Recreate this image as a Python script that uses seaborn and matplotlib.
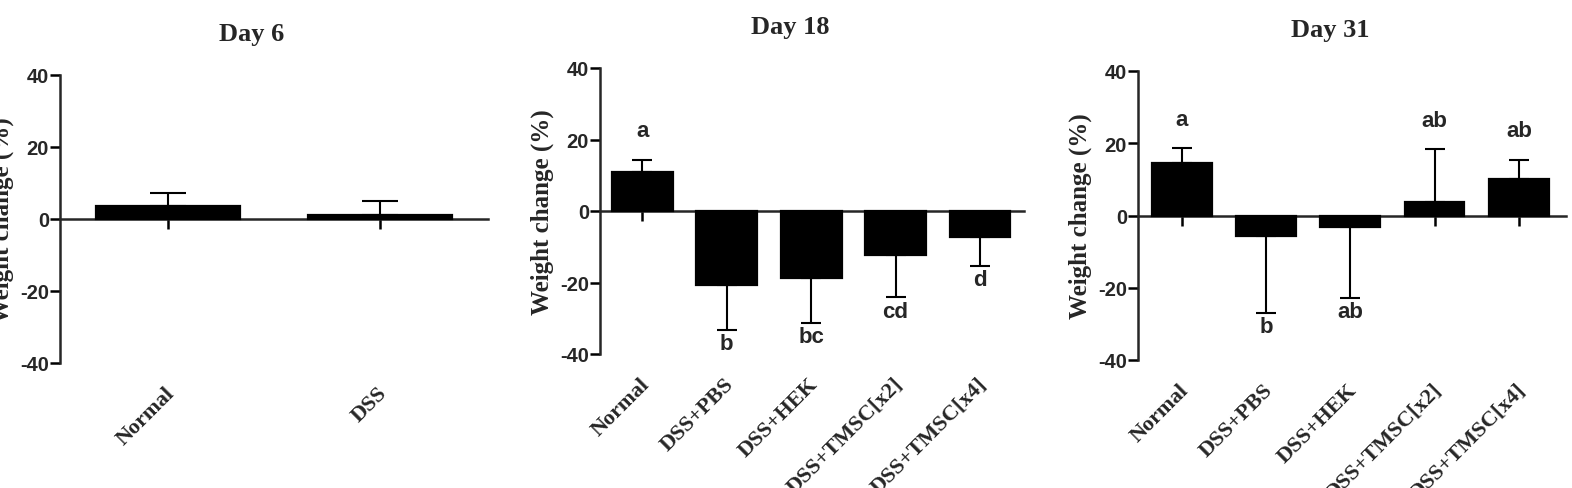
import numpy as np
import pandas as pd
import matplotlib.pyplot as plt
import matplotlib.transforms as mtransforms
import seaborn as sns

# -------------------------------------------------------
# Data
# -------------------------------------------------------

groups_day6 = ["Normal", "DSS"]
mean_day6 = [3.6, 1.1]
err_day6 = [3.6, 3.9]
letters_day6 = ["", ""]

groups_treat = ["Normal", "DSS+PBS", "DSS+HEK", "DSS+TMSC[x2]", "DSS+TMSC[x4]"]

mean_day18 = [10.9, -20.7, -18.7, -12.3, -7.3]
err_day18 = [3.4, 12.6, 12.6, 11.8, 8.1]
letters_day18 = ["a", "b", "bc", "cd", "d"]

mean_day31 = [14.4, -5.8, -3.2, 3.6, 10.2]
err_day31 = [4.2, 21.1, 19.6, 14.7, 5.3]
letters_day31 = ["a", "b", "ab", "ab", "ab"]

y_ticks = [-40, -20, 0, 20, 40]

# -------------------------------------------------------
# Style
# -------------------------------------------------------

sns.set_style("ticks")
plt.rcParams["font.family"] = ["Liberation Sans", "DejaVu Sans"]

SERIF = "Liberation Serif"
SANS = "Liberation Sans"
LW = 1.8

fig = plt.figure(figsize=(15.72, 4.89), dpi=100)

W, H = 1572, 489


def px_axes(left, top, right, bottom):
    return fig.add_axes([left / W, 1 - bottom / H, (right - left) / W, (bottom - top) / H])


def draw_panel(ax, title, groups, means, errs, letters, xlim, capsize, bar_width):
    n = len(groups)
    df = pd.DataFrame({"group": groups, "mean": means})

    sns.barplot(
        data=df,
        x="group",
        y="mean",
        color="black",
        edgecolor="black",
        linewidth=1.6,
        width=bar_width,
        saturation=1,
        errorbar=None,
        ax=ax,
        zorder=3
    )

    means = np.array(means)
    errs = np.array(errs)
    pos = means >= 0
    lower = np.where(pos, 0, errs)
    upper = np.where(pos, errs, 0)

    ax.errorbar(
        np.arange(n), means, yerr=[lower, upper],
        fmt="none", ecolor="black", elinewidth=1.5,
        capsize=capsize, capthick=1.5, zorder=2
    )

    # significance letters
    for i in range(n):
        if not letters[i]:
            continue
        if means[i] >= 0:
            y = means[i] + errs[i]
            off = 21
        else:
            y = means[i] - errs[i]
            off = -10
        ax.annotate(
            letters[i], xy=(i, y), xytext=(0, off), textcoords="offset points",
            ha="center", va="center", fontsize=16, fontweight="bold",
            fontfamily=SANS, zorder=5
        )

    ax.set_xlim(*xlim)
    ax.set_ylim(-40, 40)
    ax.set_yticks(y_ticks)
    ax.set_yticklabels([str(t) for t in y_ticks], fontsize=14.5,
                       fontweight="bold", fontfamily=SANS)
    ax.tick_params(axis="y", length=7, width=LW, pad=1, color="black")

    ax.set_xlabel("")
    ax.set_ylabel("")

    # x axis line sits at zero with short ticks below
    ax.spines["bottom"].set_position(("data", 0))
    ax.spines["bottom"].set_linewidth(LW)
    ax.spines["left"].set_linewidth(LW)
    ax.spines["top"].set_visible(False)
    ax.spines["right"].set_visible(False)
    ax.set_xticks(range(n))
    ax.tick_params(axis="x", length=7, width=LW, labelbottom=False, color="black")

    # category labels below the plot
    sec = ax.secondary_xaxis("bottom")
    sec.set_xticks(range(n))
    sec.set_xticklabels(groups, rotation=45, ha="right", fontsize=16,
                        fontweight="bold", fontfamily=SERIF)
    sec.tick_params(length=0, pad=14)
    sec.spines["bottom"].set_visible(False)
    shift = mtransforms.ScaledTranslation(11 / 100, 0, fig.dpi_scale_trans)
    for lab in sec.get_xticklabels():
        lab.set_transform(lab.get_transform() + shift)

    bbox = ax.get_position()
    width_px = bbox.width * W
    ax.set_title(title, fontsize=19, fontweight="bold", fontfamily=SERIF,
                 pad=25, x=0.5 - 22 / width_px)

    ax.text(-58 / width_px, 0.5, "Weight change (%)", transform=ax.transAxes,
            rotation=90, ha="center", va="center", fontsize=18,
            fontweight="bold", fontfamily=SERIF)


ax1 = px_axes(60, 76, 488, 364)
ax2 = px_axes(600, 69, 1024, 355)
ax3 = px_axes(1138, 72, 1566, 361)

draw_panel(ax1, "Day 6", groups_day6, mean_day6, err_day6, letters_day6,
           (-0.51, 1.51), 13, 0.68)
draw_panel(ax2, "Day 18", groups_treat, mean_day18, err_day18, letters_day18,
           (-0.5, 4.52), 7, 0.72)
draw_panel(ax3, "Day 31", groups_treat, mean_day31, err_day31, letters_day31,
           (-0.52, 4.56), 7, 0.71)

fig.savefig("out.png", dpi=100)
plt.close(fig)
